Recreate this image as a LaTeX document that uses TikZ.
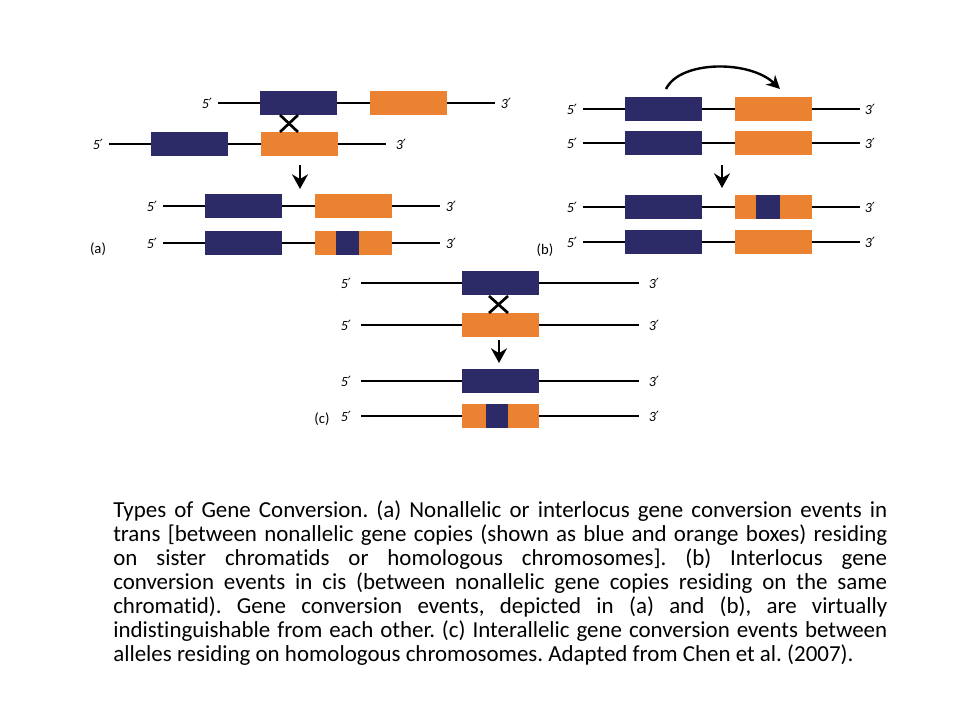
\documentclass[tikz,border=0pt]{standalone}
\usepackage{fontspec}
\setmainfont{Carlito}[Ligatures=NoCommon]
\newfontfamily\primefont{DejaVu Sans}
\usetikzlibrary{arrows.meta}
\definecolor{gblue}{RGB}{45,42,104}
\definecolor{gorange}{RGB}{234,130,50}
\newcommand{\prm}{{\primefont\upshape ′}}
\tikzset{
	chrom/.style={line width=2.2pt},
	gbox/.style={draw=none, minimum height=18pt, inner sep=0pt, outer sep=0pt, anchor=west},
	bluebox/.style={gbox, fill=gblue, minimum width=57.75pt},
	orangebox/.style={gbox, fill=gorange, minimum width=57.75pt},
	lbl/.style={font=\itshape\fontsize{10.5}{12}\selectfont, inner sep=0pt},
	panel/.style={font=\fontsize{11}{12}\selectfont, inner sep=0pt},
	xline/.style={line width=2pt},
	down/.style={line width=2.2pt, -{Stealth[length=11pt, width=12pt]}},
}

\begin{document}
\begin{tikzpicture}[x=0.75pt, y=-0.75pt]
				\useasboundingbox (0,0) rectangle (960,720);
				% two genes per chromatid, panels (a) and (b)
				\foreach \n/\x/\y/\r in {a1/218/103/11, a2/109/144/15, a3/163/206/11, a4/163/243/11,
						b1/583/109/10, b2/583/143/10, b3/583/207/10, b4/583/242/10} {
					\coordinate (\n-s) at (\x,\y);
					\coordinate (\n-e) at (\x+277,\y);
					\draw[chrom] (\n-s) -- (\n-e);
					\node[lbl] (\n-5) at (\x-11,\y) {5\prm};
					\node[lbl] (\n-3) at (\x+277+\r,\y) {3\prm};
					\node[bluebox] (\n-blue) at (\x+42,\y) {};
					\node[orangebox] (\n-org) at (\x+152,\y) {};
				}
				% one gene per chromatid, panel (c)
				\foreach \n/\y in {c1/283, c2/325, c3/381, c4/416} {
					\coordinate (\n-s) at (361,\y);
					\coordinate (\n-e) at (639,\y);
					\draw[chrom] (\n-s) -- (\n-e);
					\node[lbl] (\n-5) at (346,\y) {5\prm};
					\node[lbl] (\n-3) at (654,\y) {3\prm};
				}
				\node[bluebox] (c1-blue) at (462,283) {};
				\node[orangebox] (c2-org) at (462,325) {};
				\node[bluebox] (c3-blue) at (462,381) {};
				\node[orangebox] (c4-org) at (462,416) {};
				% converted segments
				\node[gbox, fill=gblue, minimum width=17.25pt] (a4-ins) at ([xshift=15.75pt]a4-org.west) {};
				\node[gbox, fill=gblue, minimum width=18pt] (b3-ins) at ([xshift=15.75pt]b3-org.west) {};
				\node[gbox, fill=gblue, minimum width=16.5pt] (c4-ins) at ([xshift=18pt]c4-org.west) {};
				% crossovers
				\draw[xline] (280,115) -- (298,132);
				\draw[xline] (298,115) -- (280,132);
				\draw[xline] (489,296) -- (508,313);
				\draw[xline] (508,296) -- (489,313);
				% arrows
				\coordinate (ta) at (300,165); \coordinate (ha) at (300,189);
				\coordinate (tb) at (722,165); \coordinate (hb) at (722,188);
				\coordinate (tc) at (499,340); \coordinate (hc) at (499,363);
				\draw[down] (ta) -- (ha);
				\draw[down] (tb) -- (hb);
				\draw[down] (tc) -- (hc);
				\draw[line width=1.8pt, -{Stealth[length=10pt, width=10pt]}] ([xshift=-27pt, yshift=6pt]b1-blue.north east)
					.. controls (680,60) and (750,60) .. ([xshift=-24pt, yshift=6pt]b1-org.north east);
				\node[panel] (pa) at (98,249) {(a)};
				\node[panel] (pb) at (545,250) {(b)};
				\node[panel] (pc) at (322,419) {(c)};
				% caption
				\node[anchor=north west, text width=580.5pt, align=justify, inner sep=0pt,
					font=\fontsize{17.2}{18}\selectfont\frenchspacing] (cap) at (113,500)
					{Types of Gene Conversion. (a) Nonallelic or interlocus gene conversion events in\linebreak
					trans [between nonallelic gene copies (shown as blue and orange boxes) residing\linebreak
					on sister chromatids or homologous chromosomes]. (b) Interlocus gene\linebreak
					conversion events in cis (between nonallelic gene copies residing on the same\linebreak
					chromatid). Gene conversion events, depicted in (a) and (b), are virtually\linebreak
					indistinguishable from each other. (c) Interallelic gene conversion events between\linebreak
					alleles residing on homologous chromosomes. Adapted from Chen et al. (2007).};
			\end{tikzpicture}
\end{document}
